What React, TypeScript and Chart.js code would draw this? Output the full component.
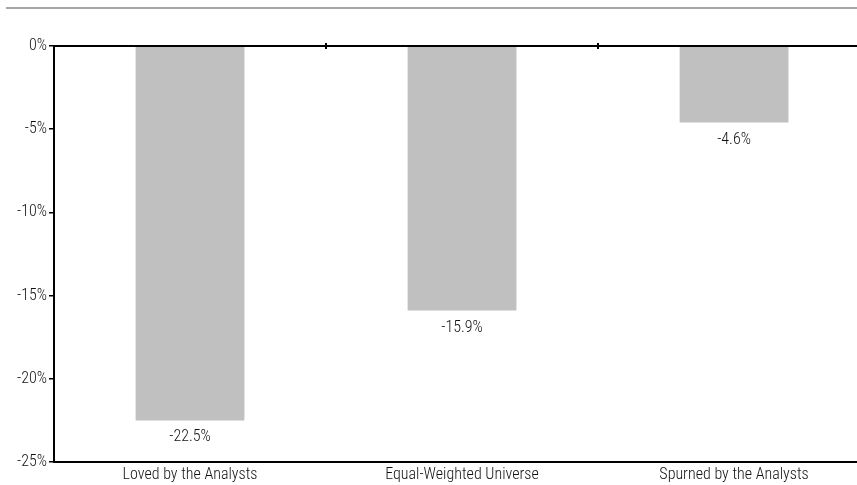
import React, { useEffect, useRef } from "react";
import { Chart, registerables } from "chart.js";

Chart.register(...registerables);

const categories = ["Loved by the Analysts", "Equal-Weighted Universe", "Spurned by the Analysts"];
const values = [-22.5, -15.9, -4.6];
const yTicks = [0, -5, -10, -15, -20, -25];

const FONT = "'Roboto Condensed', 'DejaVu Sans Condensed', sans-serif";

export default function App() {
  const ref = useRef<HTMLCanvasElement | null>(null);
  useEffect(() => {
    if (!ref.current) return;
    const decor = {
      id: "decor",
      beforeDraw(chart: any) {
        const ctx = chart.ctx;
        ctx.save();
        ctx.fillStyle = "#a6a6a6";
        ctx.fillRect(6, 7, chart.width - 6, 2);
        ctx.restore();
      },
      afterDraw(chart: any) {
        const ctx = chart.ctx;
        const { left, right } = chart.chartArea;
        const ys = chart.scales.y;
        const xs = chart.scales.x;
        const y0 = ys.getPixelForValue(0);
        ctx.save();
        ctx.strokeStyle = "#000";
        ctx.lineWidth = 2;
        ctx.beginPath();
        ctx.moveTo(left - 1, y0);
        ctx.lineTo(right, y0);
        ctx.stroke();
        for (let i = 0; i < categories.length - 1; i++) {
          const x = Math.round(xs.getPixelForValue(i + 0.5));
          ctx.beginPath();
          ctx.moveTo(x, y0 - 3);
          ctx.lineTo(x, y0 + 3);
          ctx.stroke();
        }
        ctx.fillStyle = "#111";
        ctx.font = `300 16px ${FONT}`;
        ctx.textAlign = "center";
        ctx.textBaseline = "alphabetic";
        const meta = chart.getDatasetMeta(0);
        meta.data.forEach((el: any, i: number) => {
          ctx.fillText(values[i].toFixed(1) + "%", el.x, el.y + 21);
        });
        ctx.restore();
      },
    };
    const chart = new Chart(ref.current, {
      type: "bar",
      data: {
        datasets: [
          {
            data: categories.map((c, i) => ({ x: i, y: values[i] })),
            backgroundColor: "#c0c0c0",
            borderWidth: 0,
            barPercentage: 0.4,
            categoryPercentage: 1,
          },
        ],
      },
      options: {
        animation: false,
        responsive: false,
        layout: { padding: { top: 46, left: 0, right: 0, bottom: 0 } },
        plugins: { legend: { display: false }, tooltip: { enabled: false } },
        scales: {
          x: {
            type: "linear",
            offset: false,
            min: -0.5,
            max: 2.452,
            afterBuildTicks: (s: any) => {
              s.ticks = categories.map((c, i) => ({ value: i }));
            },
            afterFit: (s: any) => {
              s.height = 23;
            },
            ticks: {
              callback: (v: any) => categories[v] ?? "",
              color: "#111",
              font: { family: FONT, size: 16, weight: "300" },
              padding: 3,
              maxRotation: 0,
              autoSkip: false,
            },
            grid: { display: false, offset: false, drawTicks: false, tickLength: 0 },
            border: { display: true, color: "#000", width: 2 },
          },
          y: {
            min: -25,
            max: 0,
            afterBuildTicks: (s: any) => {
              s.ticks = yTicks.map((v) => ({ value: v }));
            },
            afterFit: (s: any) => {
              s.width = 54;
            },
            ticks: {
              callback: (v: any) => v + "%",
              color: "#111",
              font: { family: FONT, size: 16, weight: "300" },
              padding: 2,
            },
            grid: { display: true, drawOnChartArea: false, drawTicks: true, tickLength: 5, color: "#000", lineWidth: 1.5 },
            border: { display: true, color: "#000", width: 2 },
          },
        },
      },
      plugins: [decor],
    });
    return () => chart.destroy();
  }, []);
  return (
    <div style={{ position: "fixed", left: 0, top: 0, width: 857, height: 485, background: "#fff" }}>
      <canvas ref={ref} width={857} height={485} style={{ display: "block" }} />
    </div>
  );
}
